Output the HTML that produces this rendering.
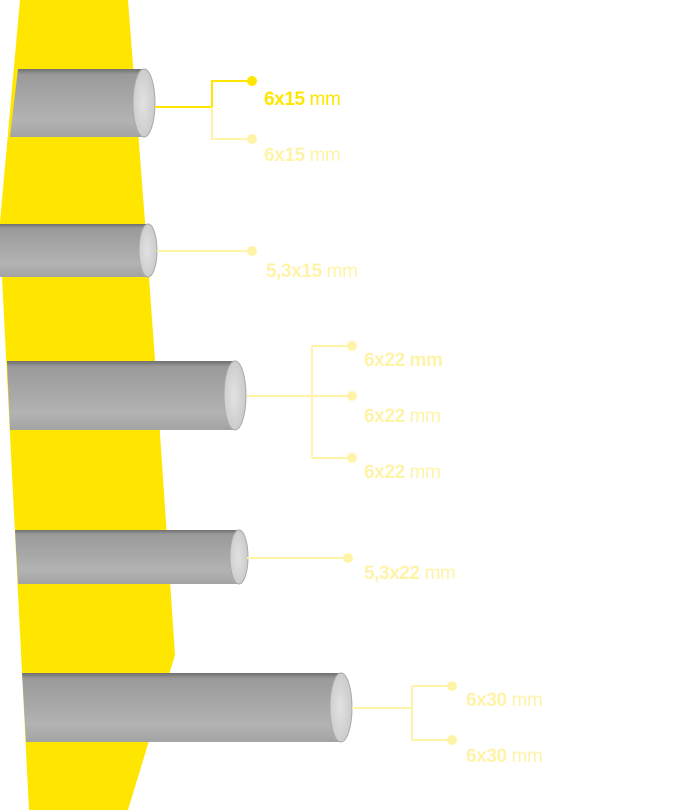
<!DOCTYPE html>
<html><head><style>
html,body{margin:0;padding:0;background:#fff;}
svg{display:block}
text{font-family:"Liberation Sans",sans-serif;font-size:19px;letter-spacing:-0.4px;}
</style></head><body>
<svg width="684" height="811" viewBox="0 0 684 811" xmlns="http://www.w3.org/2000/svg">
<defs>
<linearGradient id="rod" x1="0" y1="0" x2="0" y2="1">
<stop offset="0" stop-color="#6f6f6f"/>
<stop offset="0.08" stop-color="#9a9a9a"/>
<stop offset="0.5" stop-color="#a9a9a9"/>
<stop offset="0.75" stop-color="#b3b3b3"/>
<stop offset="1" stop-color="#a3a3a3"/>
</linearGradient>
<radialGradient id="cap" cx="0.45" cy="0.5" r="0.6">
<stop offset="0" stop-color="#e2e2e2"/>
<stop offset="1" stop-color="#c8c8c8"/>
</radialGradient>
</defs>
<polygon points="20,0 128,0 145,222 155,360 175,655 128,810 29,810 2,277 0,222" fill="#FFE600"/>
<g>
<polygon points="18,69 144,69 144,137 10,137" fill="url(#rod)"/>
<ellipse cx="144" cy="103" rx="11" ry="34" fill="url(#cap)" stroke="#aaa" stroke-width="1"/>
<polygon points="0,224 148,224 148,277 0,277" fill="url(#rod)"/>
<ellipse cx="148" cy="250.5" rx="9" ry="26.5" fill="url(#cap)" stroke="#aaa" stroke-width="1"/>
<polygon points="7,361 235,361 235,430 10,430" fill="url(#rod)"/>
<ellipse cx="235" cy="395.5" rx="11" ry="34.5" fill="url(#cap)" stroke="#aaa" stroke-width="1"/>
<polygon points="15,530 239,530 239,584 18,584" fill="url(#rod)"/>
<ellipse cx="239" cy="557" rx="9" ry="27" fill="url(#cap)" stroke="#aaa" stroke-width="1"/>
<polygon points="22,673 341,673 341,742 26,742" fill="url(#rod)"/>
<ellipse cx="341" cy="707.5" rx="11" ry="34.5" fill="url(#cap)" stroke="#aaa" stroke-width="1"/>
</g>
<g fill="none" stroke-width="2">
<path d="M155,107 H212 V81 H252" stroke="#FFE600"/>
<path d="M212,107 V139 H252" stroke="#FFF3A8"/>
<path d="M157,251 H252" stroke="#FFF3A8"/>
<path d="M247,396 H352 M312,346 V458 M312,346 H352 M312,458 H352" stroke="#FFF3A8"/>
<path d="M247,558 H348" stroke="#FFF3A8"/>
<path d="M352,708 H412 M412,686 V740 M412,686 H452 M412,740 H452" stroke="#FFF3A8"/>
</g>
<g fill="#FFF3A8">
<circle cx="252" cy="81" r="5" fill="#FFE600"/>
<circle cx="252" cy="139" r="5"/>
<circle cx="252" cy="251" r="5"/>
<circle cx="352" cy="346" r="5"/>
<circle cx="352" cy="396" r="5"/>
<circle cx="352" cy="458" r="5"/>
<circle cx="348" cy="558" r="5"/>
<circle cx="452" cy="686" r="5"/>
<circle cx="452" cy="740" r="5"/>
</g>
<g fill="#FFF3A8">
<text x="264" y="105" fill="#FFE600"><tspan font-weight="bold">6x15</tspan> mm</text>
<text x="264" y="161"><tspan font-weight="bold">6x15</tspan> mm</text>
<text x="266" y="277"><tspan font-weight="bold">5,3x15</tspan> mm</text>
<text x="364" y="366" font-weight="bold">6x22 mm</text>
<text x="364" y="422"><tspan font-weight="bold">6x22</tspan> mm</text>
<text x="364" y="478"><tspan font-weight="bold">6x22</tspan> mm</text>
<text x="364" y="579"><tspan font-weight="bold">5,3x22</tspan> mm</text>
<text x="466" y="706"><tspan font-weight="bold">6x30</tspan> mm</text>
<text x="466" y="762"><tspan font-weight="bold">6x30</tspan> mm</text>
</g>
</svg>
</body></html>
